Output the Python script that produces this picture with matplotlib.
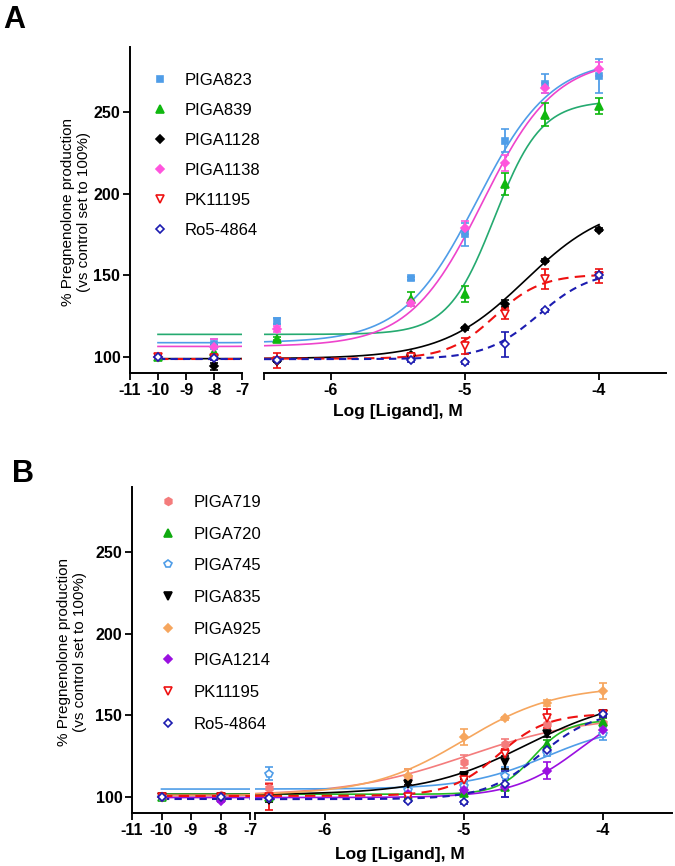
import matplotlib
matplotlib.use('Agg')
import matplotlib.pyplot as plt
from matplotlib.lines import Line2D
import numpy as np

plt.rcParams['font.family'] = ['Liberation Sans', 'DejaVu Sans']
plt.rcParams['axes.unicode_minus'] = False

# log concentrations used in the assay
log_x = [-10, -8, -6.4, -5.4, -5, -4.7, -4.4, -4]

# ---- panel A data (mean, sem) ----
a_names = ['PIGA823', 'PIGA839', 'PIGA1128', 'PIGA1138', 'PK11195', 'Ro5-4864']
a_mean = {
    'PIGA823':  [100, 108, 122, 148, 175, 232.5, 267.5, 272],
    'PIGA839':  [100, 103, 111, 135.5, 138.5, 206, 248.5, 254],
    'PIGA1128': [100, 94, 97.5, 101, 117.5, 132.5, 159, 178],
    'PIGA1138': [100, 106, 117, 133, 179, 219, 265, 276.5],
    'PK11195':  [100, 99, 97.5, 100, 106.5, 126.5, 147.5, 149.5],
    'Ro5-4864': [100, 99, 98, 98, 96.5, 107.5, 128.5, 150],
}
a_sem = {
    'PIGA823':  [0, 3, 2, 1, 7, 7, 6, 10.5],
    'PIGA839':  [0, 4, 1, 4.5, 5, 6.5, 7, 5],
    'PIGA1128': [0, 2, 1, 1, 1, 2, 1, 1],
    'PIGA1138': [0, 5, 2, 2, 4, 5, 3, 4],
    'PK11195':  [0, 1, 4.5, 1, 5, 3.5, 6, 4],
    'Ro5-4864': [0, 1, 1, 1, 1, 7.5, 1, 2],
}
# 4-parameter logistic fit: bottom, top, logEC50, hill
a_fit = {
    'PIGA823':  [108.6, 283, -4.91, 1.57],
    'PIGA839':  [113.7, 257, -4.78, 2.5],
    'PIGA1128': [98.8, 195, -4.55, 1.4],
    'PIGA1138': [106.3, 283, -4.87, 1.6],
    'PK11195':  [98.8, 150.5, -4.78, 2.5],
    'Ro5-4864': [98.5, 153, -4.45, 2.2],
}

# ---- panel B data ----
b_names = ['PIGA719', 'PIGA720', 'PIGA745', 'PIGA835', 'PIGA925', 'PIGA1214', 'PK11195', 'Ro5-4864']
b_mean = {
    'PIGA719':  [100, 101, 105.5, 112, 121.5, 132.5, 144.5, 145.5],
    'PIGA720':  [100, 100, 100, 100, 102, 106, 132.5, 146],
    'PIGA745':  [100, 100, 114, 104, 106.5, 113, 127, 138.5],
    'PIGA835':  [100, 100, 98, 108, 113, 121, 138.5, 151],
    'PIGA925':  [100, 100, 100, 113, 136.5, 148, 157.5, 165],
    'PIGA1214': [100, 97.5, 99.5, 101.5, 104, 106, 116, 141],
    'PK11195':  [100, 100, 100, 100, 110, 126, 148, 151],
    'Ro5-4864': [100, 100, 99, 97.5, 96.5, 108, 128.5, 151],
}
b_sem = {
    'PIGA719':  [0, 1, 3, 5, 4, 3, 4, 3],
    'PIGA720':  [0, 1, 1, 1, 1, 2, 2, 2],
    'PIGA745':  [0, 1, 4, 1, 2, 5, 2, 4],
    'PIGA835':  [0, 1, 1, 1, 2, 4, 2, 1],
    'PIGA925':  [0, 1, 1, 4, 5, 1, 2, 5],
    'PIGA1214': [0, 1, 1, 1, 2, 6, 5, 3],
    'PK11195':  [0, 1, 8, 1, 4, 3, 6, 2],
    'Ro5-4864': [0, 1, 1, 1, 1, 8, 1, 2],
}
b_fit = {
    'PIGA719':  [100.5, 150, -4.97, 1.0],
    'PIGA720':  [101.5, 147, -4.5, 3.5],
    'PIGA745':  [104.7, 145, -4.4, 1.5],
    'PIGA835':  [101.3, 162, -4.55, 1.2],
    'PIGA925':  [101, 168, -5.0, 1.3],
    'PIGA1214': [99.5, 161, -4.15, 1.8],
    'PK11195':  [100.5, 151, -4.75, 2.5],
    'Ro5-4864': [98.5, 153, -4.45, 2.2],
}

# styles: marker, size, marker face, edge/errbar colour, curve colour, linestyle
styles = {
    'PIGA823':  ('s', 4.8, '#4f9de8', '#4f9de8', '#4f9de8', '-'),
    'PIGA839':  ('^', 5.5, '#10b810', '#10b810', '#25aa70', '-'),
    'PIGA1128': ('D', 4.2, 'black', 'black', 'black', '-'),
    'PIGA1138': ('D', 4.5, '#ff55dd', '#ff55dd', '#ee44cc', '-'),
    'PK11195':  ('v', 5.5, 'white', '#ee1111', '#ee1111', (0, (5, 3))),
    'Ro5-4864': ('D', 4.2, 'white', '#1c1cb0', '#1c1cb0', (0, (3.5, 2.5))),
    'PIGA719':  ('h', 5.5, '#f47c7c', '#f47c7c', '#f47c7c', '-'),
    'PIGA720':  ('^', 5.5, '#10aa10', '#10aa10', '#22bb22', '-'),
    'PIGA745':  ('p', 5.5, 'white', '#4f9de8', '#4f9de8', '-'),
    'PIGA835':  ('v', 5.5, 'black', 'black', 'black', '-'),
    'PIGA925':  ('D', 4.5, '#f6a65e', '#f6a65e', '#f6a65e', '-'),
    'PIGA1214': ('D', 4.5, '#9a10e0', '#9a10e0', '#9a10e0', '-'),
}


def logistic(x, p):
    bottom, top, ec50, hill = p
    return bottom + (top - bottom) / (1 + 10 ** ((ec50 - x) * hill))


W, H = 675, 866
fig = plt.figure(figsize=(6.75, 8.66), dpi=100)


def px_axes(x0, x1, y_top, y_bot):
    return fig.add_axes([x0 / W, 1 - y_bot / H, (x1 - x0) / W, (y_bot - y_top) / H])


def draw_panel(names, mean, sem, fit, y_top, y_bot, left_seg, right_seg, leg_xy, leg_space, leg_pad):
    ax_l = px_axes(left_seg[0], left_seg[1], y_top, y_bot)
    ax_r = px_axes(right_seg[0], right_seg[1], y_top, y_bot)
    ax_l.set_xlim(-11, -7)
    ax_r.set_xlim(-6.5, -3.5)
    for ax in (ax_l, ax_r):
        ax.set_ylim(90, 290)
        ax.spines['top'].set_visible(False)
        ax.spines['right'].set_visible(False)
        ax.spines['bottom'].set_linewidth(1.4)
        ax.spines['left'].set_linewidth(1.4)
        ax.tick_params(direction='out', length=5, width=1.3, labelsize=11.5, pad=2)
    ax_r.spines['left'].set_visible(False)
    ax_r.tick_params(axis='y', left=False, labelleft=False)
    ax_l.set_yticks([100, 150, 200, 250])
    ax_l.set_xticks([-11, -10, -9, -8, -7])
    ax_r.set_xticks([-6, -5, -4])
    ax_r.set_xticks([-6.5], minor=True)
    ax_r.tick_params(axis='x', which='minor', length=5, width=1.3)
    for ax in (ax_l, ax_r):
        for lab in ax.get_xticklabels() + ax.get_yticklabels():
            lab.set_fontweight('bold')

    xs = np.array(log_x)
    left_mask = xs <= -7
    right_mask = xs > -7
    grid_l = np.linspace(-10, -7, 60)
    grid_r = np.linspace(-6.5, -4, 300)
    handles = []
    for n in names:
        mk, ms, fc, ec, lc, ls = styles[n]
        m = np.array(mean[n])
        e = np.array(sem[n])
        lw = 1.5 if ls != '-' else 1.2
        for ax, mask, grid in ((ax_l, left_mask, grid_l), (ax_r, right_mask, grid_r)):
            ax.plot(grid, logistic(grid, fit[n]), color=lc, lw=lw, ls=ls, zorder=2)
            ax.errorbar(xs[mask], m[mask], yerr=e[mask], fmt=mk, ms=ms, mfc=fc, mec=ec,
                        mew=1.2, ecolor=ec, elinewidth=1.3, capsize=3, capthick=1.3,
                        zorder=3, clip_on=False)
        handles.append(Line2D([], [], marker=mk, ls='none', ms=ms, mfc=fc, mec=ec, mew=1.2))

    fig.legend(handles, names, loc='upper left', bbox_to_anchor=(leg_xy[0] / W, 1 - leg_xy[1] / H),
               frameon=False, fontsize=12, borderpad=0, borderaxespad=0, handlelength=1,
               handletextpad=leg_pad, labelspacing=leg_space)
    return ax_l, ax_r


draw_panel(a_names, a_mean, a_sem, a_fit, 47, 373, (130, 242), (264, 666),
           (152, 73), 0.9, 0.93)
draw_panel(b_names, b_mean, b_sem, b_fit, 487, 813, (132, 250), (255, 672),
           (160, 495), 1.0, 1.0)

ylab = '% Pregnenolone production\n(vs control set to 100%)'
fig.text(76 / W, 1 - 212 / H, ylab, rotation=90, ha='center', va='center', fontsize=11,
         multialignment='center', linespacing=1.15)
fig.text(72 / W, 1 - 652 / H, ylab, rotation=90, ha='center', va='center', fontsize=11,
         multialignment='center', linespacing=1.15)
fig.text(398 / W, 1 - 412 / H, 'Log [Ligand], M', ha='center', va='center', fontsize=12.5, fontweight='bold')
fig.text(400 / W, 1 - 854 / H, 'Log [Ligand], M', ha='center', va='center', fontsize=12.5, fontweight='bold')
fig.text(3 / W, 1 - 28 / H, 'A', fontsize=22, fontweight='bold', ha='left', va='baseline')
fig.text(12 / W, 1 - 482 / H, 'B', fontsize=22, fontweight='bold', ha='left', va='baseline')

fig.savefig('out.png', dpi=100)
